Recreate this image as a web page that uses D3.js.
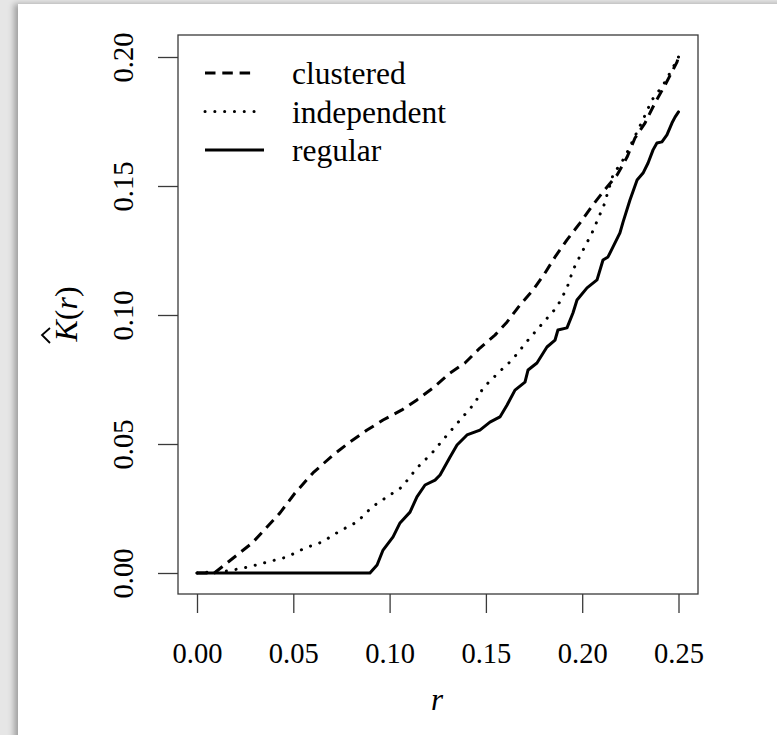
<!DOCTYPE html>
<html lang="en">

<head>
    <meta charset="UTF-8">
    <title>K function</title>
    <script src="https://cdn.jsdelivr.net/npm/d3@7"></script>
    <style>
        body {
            margin: 0;
            background: #e6e6e6;
            overflow: hidden;
        }

        #page {
            position: absolute;
            left: 18px;
            top: 4px;
            width: 800px;
            height: 800px;
            background: white;
            box-shadow: -4px 0 6px rgba(0, 0, 0, 0.3);
        }

        svg {
            position: absolute;
            left: 0;
            top: 0;
        }

        svg text {
            font-family: 'Liberation Serif', 'Times New Roman', serif;
        }
    </style>
</head>

<body>
    <div id="page"></div>
    <script>
        // Data: r values and K-hat values per pattern
        const clusteredR = [0, 0.009, 0.0286, 0.0431, 0.0509, 0.0602, 0.0706, 0.0794, 0.0883, 0.0966, 0.1064, 0.1142,
            0.1225, 0.1314, 0.1391, 0.1469, 0.1547, 0.161, 0.1677, 0.1745, 0.1807, 0.1859, 0.1921, 0.1989, 0.2051,
            0.2108, 0.2181, 0.2233, 0.2274, 0.2326, 0.2378, 0.243, 0.2492, 0.25];
        const clusteredK = [0, 0, 0.0116, 0.0233, 0.031, 0.0388, 0.0457, 0.0508, 0.0554, 0.0593, 0.0632, 0.0671,
            0.0717, 0.0775, 0.0814, 0.0872, 0.0922, 0.0973, 0.1039, 0.1097, 0.1163, 0.1225, 0.1291, 0.1357, 0.1422,
            0.1477, 0.1543, 0.1612, 0.1686, 0.1744, 0.1822, 0.1891, 0.198, 0.2];

        const independentR = [0, 0.0161, 0.0265, 0.0369, 0.0467, 0.0561, 0.0649, 0.0742, 0.0831, 0.0909, 0.0987,
            0.1064, 0.1142, 0.122, 0.1277, 0.1366, 0.1443, 0.1485, 0.1563, 0.1636, 0.1719, 0.1796, 0.1869, 0.1921,
            0.1952, 0.1999, 0.2051, 0.2113, 0.216, 0.2222, 0.2264, 0.231, 0.2362, 0.242, 0.247, 0.25];
        const independentK = [0, 0.0008, 0.0023, 0.0043, 0.0062, 0.0097, 0.012, 0.0163, 0.0198, 0.0256, 0.0295,
            0.0333, 0.0407, 0.0465, 0.0516, 0.0593, 0.0659, 0.0717, 0.0775, 0.0826, 0.0903, 0.0969, 0.1031, 0.1105,
            0.1174, 0.1244, 0.1318, 0.1426, 0.1543, 0.1612, 0.1678, 0.1748, 0.1833, 0.1891, 0.1957, 0.2];

        const regularR = [0, 0.0898, 0.0935, 0.0966, 0.1018, 0.1054, 0.1106, 0.1142, 0.1184, 0.1236, 0.1262, 0.1314,
            0.135, 0.1402, 0.1469, 0.1521, 0.1573, 0.161, 0.1651, 0.1703, 0.1719, 0.1765, 0.1817, 0.1859, 0.1874,
            0.1921, 0.1952, 0.1973, 0.2025, 0.2077, 0.2108, 0.2134, 0.216, 0.2196, 0.2212, 0.2248, 0.2285, 0.2316,
            0.2342, 0.2368, 0.2388, 0.2414, 0.244, 0.2466, 0.2482, 0.25];
        const regularK = [0, 0, 0.0031, 0.0089, 0.014, 0.0194, 0.0236, 0.0295, 0.0341, 0.036, 0.038, 0.045, 0.0496,
            0.0535, 0.0554, 0.0585, 0.0605, 0.0651, 0.0709, 0.074, 0.0787, 0.0814, 0.0876, 0.0903, 0.0942, 0.095,
            0.1008, 0.1058, 0.1105, 0.1136, 0.1213, 0.1225, 0.1264, 0.1318, 0.136, 0.1446, 0.1523, 0.155, 0.1589,
            0.164, 0.1667, 0.1671, 0.1698, 0.1744, 0.1767, 0.1787];

        const legendLabels = ["clustered", "independent", "regular"];
        const xTicks = [0, 0.05, 0.10, 0.15, 0.20, 0.25];
        const yTicks = [0, 0.05, 0.10, 0.15, 0.20];

        /*------------------- Layout --------------------*/
        const width = 777, height = 735;
        const box = { left: 178, top: 35, right: 698, bottom: 594 };
        const serif = "'Liberation Serif', 'DejaVu Serif', serif";

        // R style axes: 4% padding on each side of the data range
        const x = d3.scaleLinear().domain([0, 0.25]).range([197, 678.5]);
        const y = d3.scaleLinear().domain([0, 0.2]).range([573, 57]);

        const svg = d3.select("body").append("svg")
            .attr("width", width)
            .attr("height", height);

        // plot box
        svg.append("rect")
            .attr("x", box.left).attr("y", box.top)
            .attr("width", box.right - box.left).attr("height", box.bottom - box.top)
            .attr("fill", "none").attr("stroke", "#3a3a3a").attr("stroke-width", 1.3);

        // x axis
        const xAxis = svg.append("g").attr("transform", `translate(0,${box.bottom})`)
            .call(d3.axisBottom(x).tickValues(xTicks).tickSize(19).tickFormat(d3.format(".2f")));
        xAxis.select(".domain").remove();
        xAxis.selectAll("line").attr("stroke", "#3a3a3a").attr("stroke-width", 1.3);
        xAxis.selectAll("text")
            .attr("y", 69).attr("dy", null)
            .attr("fill", "#000")
            .style("font-family", serif)
            .style("font-size", "28.5px");

        // y axis, labels turned like in R
        const yAxis = svg.append("g").attr("transform", `translate(${box.left},0)`)
            .call(d3.axisLeft(y).tickValues(yTicks).tickSize(20).tickFormat(d3.format(".2f")));
        yAxis.select(".domain").remove();
        yAxis.selectAll("line").attr("stroke", "#3a3a3a").attr("stroke-width", 1.3);
        yAxis.selectAll("text")
            .attr("x", null).attr("dy", null)
            .attr("text-anchor", "middle")
            .attr("transform", "translate(-45,0) rotate(-90)")
            .attr("fill", "#000")
            .style("font-family", serif)
            .style("font-size", "28.5px");

        // axis titles
        svg.append("text")
            .attr("x", 437).attr("y", 710)
            .attr("text-anchor", "middle")
            .style("font-family", serif)
            .style("font-size", "31px").style("font-style", "italic")
            .text("r");

        const yTitle = svg.append("g").attr("transform", "translate(77,314) rotate(-90)");
        const yText = yTitle.append("text")
            .attr("text-anchor", "middle")
            .style("font-family", serif)
            .style("font-size", "32px");
        yText.append("tspan").style("font-style", "italic").text("K");
        yText.append("tspan").text("(");
        yText.append("tspan").style("font-style", "italic").text("r");
        yText.append("tspan").text(")");
        // hat over K
        yTitle.append("path")
            .attr("d", "M-29,-27 L-21,-35 L-14,-27")
            .attr("fill", "none").attr("stroke", "#000").attr("stroke-width", 1.8);

        /*------------------- Curves --------------------*/
        const line = d3.line().x(d => x(d[0])).y(d => y(d[1]));
        const series = [
            { name: legendLabels[0], r: clusteredR, k: clusteredK, dash: "10.5,6.8", cap: "butt" },
            { name: legendLabels[1], r: independentR, k: independentK, dash: "0.1,9.7", cap: "round" },
            { name: legendLabels[2], r: regularR, k: regularK, dash: null, cap: "round" }
        ];

        series.forEach(s => {
            svg.append("path")
                .datum(d3.zip(s.r, s.k))
                .attr("d", line)
                .attr("fill", "none")
                .attr("stroke", "#000")
                .attr("stroke-width", 3)
                .attr("stroke-linecap", s.cap)
                .attr("stroke-linejoin", "round")
                .attr("stroke-dasharray", s.dash);
        });

        /*------------------- Legend --------------------*/
        const legend = svg.append("g");
        const legendEnds = [252, 256, 264];
        series.forEach((s, i) => {
            const ly = 73 + i * 38.5;
            legend.append("line")
                .attr("x1", 205).attr("x2", legendEnds[i])
                .attr("y1", ly).attr("y2", ly)
                .attr("stroke", "#000").attr("stroke-width", 3)
                .attr("stroke-linecap", s.cap === "round" && s.dash ? "round" : "butt")
                .attr("stroke-dasharray", s.dash);
            legend.append("text")
                .attr("x", 292).attr("y", ly + 11)
                .style("font-family", serif)
                .style("font-size", "31.5px")
                .text(s.name);
        });
    </script>
</body>

</html>
